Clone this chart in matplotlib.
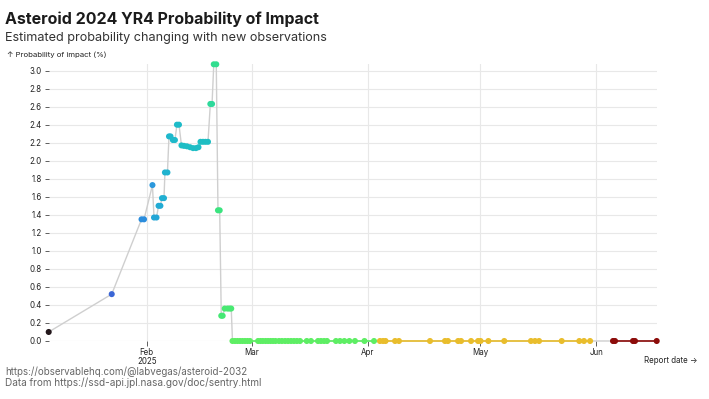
import matplotlib
matplotlib.use("Agg")
import matplotlib.pyplot as plt
import pandas as pd

plt.rcParams['font.family'] = ['Inter', 'DejaVu Sans']

# ---------------- data ----------------
dates = [
    "2025-01-05 20:00", "2025-01-22 16:00",
    "2025-01-30 15:00", "2025-01-31 07:00",
    "2025-02-02 13:00",
    "2025-02-02 23:00", "2025-02-03 15:00",
    "2025-02-04 04:00", "2025-02-04 16:00",
    "2025-02-05 02:00", "2025-02-05 15:00",
    "2025-02-05 21:00", "2025-02-06 13:00",
    "2025-02-06 23:00", "2025-02-07 09:00",
    "2025-02-08 00:00", "2025-02-08 13:00",
    "2025-02-09 02:00", "2025-02-09 15:00",
    "2025-02-10 07:00", "2025-02-10 23:00", "2025-02-11 18:00", "2025-02-12 14:00",
    "2025-02-13 09:00", "2025-02-14 04:00", "2025-02-14 20:00",
    "2025-02-15 09:00", "2025-02-16 01:00", "2025-02-16 17:00", "2025-02-17 09:00",
    "2025-02-18 00:00", "2025-02-18 11:00",
    "2025-02-18 22:00", "2025-02-19 14:00",
    "2025-02-20 01:00", "2025-02-20 12:00",
    "2025-02-20 22:00", "2025-02-21 07:00",
    "2025-02-21 20:00", "2025-02-22 14:00", "2025-02-23 03:00", "2025-02-23 14:00",
    # near-zero plateau (green)
    "2025-02-23 22:00", "2025-02-24 14:00", "2025-02-25 06:00", "2025-02-25 22:00",
    "2025-02-26 14:00", "2025-02-27 06:00", "2025-02-27 22:00", "2025-02-28 14:00",
    "2025-03-02 18:00", "2025-03-03 10:00", "2025-03-04 01:00", "2025-03-04 18:00",
    "2025-03-05 10:00", "2025-03-06 02:00", "2025-03-06 18:00", "2025-03-07 10:00",
    "2025-03-08 08:00", "2025-03-09 03:00", "2025-03-09 23:00", "2025-03-10 18:00",
    "2025-03-11 13:00", "2025-03-12 08:00", "2025-03-13 03:00", "2025-03-13 23:00",
    "2025-03-15 18:00", "2025-03-16 21:00", "2025-03-18 18:00", "2025-03-19 13:00",
    "2025-03-20 09:00", "2025-03-21 04:00", "2025-03-23 13:00", "2025-03-24 15:00",
    "2025-03-25 19:00", "2025-03-27 03:00", "2025-03-28 15:00", "2025-03-31 04:00",
    "2025-04-02 17:00",
    # near-zero plateau (yellow)
    "2025-04-04 07:00", "2025-04-05 03:00", "2025-04-05 19:00", "2025-04-08 08:00",
    "2025-04-09 09:00", "2025-04-17 16:00", "2025-04-21 16:00", "2025-04-22 11:00",
    "2025-04-25 04:00", "2025-04-25 23:00", "2025-04-28 15:00", "2025-04-30 12:00",
    "2025-05-01 04:00", "2025-05-03 06:00", "2025-05-07 12:00", "2025-05-14 15:00",
    "2025-05-15 17:00", "2025-05-16 19:00", "2025-05-22 20:00", "2025-05-27 13:00",
    "2025-05-28 19:00", "2025-05-30 10:00",
    # near-zero plateau (dark red)
    "2025-06-05 13:00", "2025-06-06 02:00", "2025-06-10 21:00", "2025-06-11 10:00",
    "2025-06-17 05:00",
]

probs = [
    0.10, 0.52,
    1.35, 1.35,
    1.73,
    1.37, 1.37,
    1.50, 1.50,
    1.585, 1.585,
    1.87, 1.87,
    2.27, 2.27,
    2.23, 2.23,
    2.40, 2.40,
    2.17, 2.165, 2.16, 2.15,
    2.14, 2.14, 2.15,
    2.21, 2.21, 2.21, 2.21,
    2.63, 2.63,
    3.07, 3.07,
    1.45, 1.45,
    0.28, 0.28,
    0.36, 0.36, 0.36, 0.36,
] + [0.0] * 37 + [0.0] * 22 + [0.0] * 5

groups = [
    0, 1,
    2, 2,
    3,
    4, 4,
    5, 5,
    6, 6,
    7, 7,
    8, 8,
    9, 9,
    10, 10,
    11, 11, 11, 11,
    11, 11, 11,
    12, 12, 12, 12,
    13, 13,
    14, 14,
    15, 15,
    16, 16,
    17, 17, 17, 17,
] + [18] * 37 + [19] * 22 + [20] * 5

group_colors = [
    "#23171b", "#3b66d6", "#2b8ddd", "#2b98dc", "#23a6d6",
    "#22abd4", "#21afd2", "#20b3cf", "#1eb8cc", "#1eb9ca",
    "#1dbbc8", "#1ebdc5", "#1ebec3", "#2ed99b", "#32dd8f",
    "#3be47f", "#45e874", "#48e972", "#5eee64", "#e9bd2c",
    "#8c0c0a",
]

y_ticks = [0.0, 0.2, 0.4, 0.6, 0.8, 1.0, 1.2, 1.4, 1.6, 1.8, 2.0,
           2.2, 2.4, 2.6, 2.8, 3.0]
month_ticks = ["2025-02-01", "2025-03-01", "2025-04-01", "2025-05-01", "2025-06-01"]
month_labels = ["Feb\n2025", "Mar", "Apr", "May", "Jun"]

title = "Asteroid 2024 YR4 Probability of Impact"
subtitle = "Estimated probability changing with new observations"
footer = ["https://observablehq.com/@labvegas/asteroid-2032",
          "Data from https://ssd-api.jpl.nasa.gov/doc/sentry.html"]

# ---------------- plot ----------------
W, H = 709, 399
fig = plt.figure(figsize=(W / 100, H / 100), dpi=100)
ax = fig.add_axes([48.7 / W, 58 / H, 608 / W, 276.7 / H])

d = pd.to_datetime(dates)
df = pd.DataFrame({"date": d, "prob": probs, "group": groups})

ax.set_xlim(d.min(), d.max())
ax.set_ylim(0, max(probs))

for s in ax.spines.values():
    s.set_visible(False)
ax.set_yticks(y_ticks)
ax.set_yticklabels([f"{v:.1f}" for v in y_ticks])
ax.set_xticks(pd.to_datetime(month_ticks))
ax.set_xticklabels(month_labels, linespacing=0.95)
ax.grid(True, color="#e8e8e8", lw=0.8, zorder=0)
ax.set_axisbelow(True)
ax.tick_params(axis="y", length=3, width=0.6, color="#444", pad=2,
               labelsize=5.7, labelcolor="#222")
ax.tick_params(axis="x", length=3.5, width=0.6, color="#444", pad=1.5,
               labelsize=5.7, labelcolor="#222")

# connecting gray line through all reports
ax.plot(df["date"], df["prob"], color="#cfcfcf", lw=1.0, zorder=2,
        clip_on=False, solid_joinstyle="round")
# coloured segments within each plateau
for g, sub in df.groupby("group"):
    if len(sub) > 1:
        ax.plot(sub["date"], sub["prob"], color=group_colors[g], lw=1.2,
                zorder=3, clip_on=False)
ax.scatter(df["date"], df["prob"], c=[group_colors[g] for g in df["group"]],
           s=19, linewidths=0, zorder=4, clip_on=False)

# texts
fig.text(5 / W, 1 - 24 / H, title, fontsize=11.5, fontweight="bold",
         color="#1b1b1b", va="baseline", ha="left")
fig.text(5 / W, 1 - 41.5 / H, subtitle, fontsize=9.1, color="#333",
         va="baseline", ha="left")
fig.text(7 / W, 1 - 57 / H, "\u2191 Probability of impact (%)", fontsize=5.6,
         color="#222", va="baseline", ha="left")
fig.text(697 / W, 1 - 363 / H, "Report date \u2192", fontsize=5.7,
         color="#222", va="baseline", ha="right")
fig.text(5 / W, 1 - 375 / H, footer[0], fontsize=7.0, color="#666",
         va="baseline", ha="left")
fig.text(5 / W, 1 - 386.5 / H, footer[1], fontsize=7.2, color="#666",
         va="baseline", ha="left")

fig.savefig("out.png", dpi=100, facecolor="white")
